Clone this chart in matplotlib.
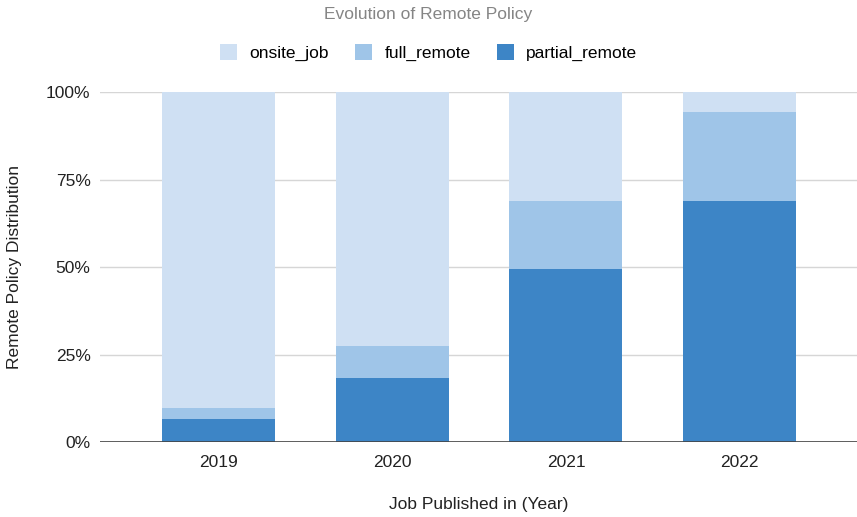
import matplotlib
matplotlib.use('Agg')
import matplotlib.pyplot as plt
import numpy as np

plt.rcParams['font.family'] = ['Liberation Sans', 'DejaVu Sans']

years = ['2019', '2020', '2021', '2022']
partial_remote = [6.6, 18.3, 49.4, 68.9]
full_remote = [3.1, 9.1, 19.5, 25.4]
onsite_job = [90.3, 72.6, 31.1, 5.7]

c_onsite = '#cfe0f3'
c_full = '#9fc5e8'
c_partial = '#3d85c6'
fs = 12.5

fig = plt.figure(figsize=(8.57, 5.17), dpi=100)
ax = fig.add_axes([0.117, 0.145, 0.883, 0.677])

x = np.arange(len(years))
w = 0.65
base_full = np.array(partial_remote)
base_onsite = base_full + np.array(full_remote)

ax.bar(x, partial_remote, w, color=c_partial, label='partial_remote', zorder=3)
ax.bar(x, full_remote, w, bottom=base_full, color=c_full, label='full_remote', zorder=3)
ax.bar(x, onsite_job, w, bottom=base_onsite, color=c_onsite, label='onsite_job', zorder=3)

ax.set_xlim(-0.68, 3.675)
ax.set_ylim(0, 100)
ax.set_yticks([0, 25, 50, 75, 100])
ax.set_yticklabels(['0%', '25%', '50%', '75%', '100%'])
ax.set_xticks(x)
ax.set_xticklabels(years)

ax.grid(axis='y', color='#d6d6d6', linewidth=1, zorder=0)
ax.axhline(0, color='#444444', linewidth=1.2, zorder=4)
for s in ax.spines.values():
    s.set_visible(False)
ax.tick_params(axis='y', length=0, pad=7, labelsize=fs, labelcolor='#222222')
ax.tick_params(axis='x', length=0, pad=9, labelsize=fs, labelcolor='#222222')

ax.set_xlabel('Job Published in (Year)', fontsize=fs, labelpad=20, color='#222222')
ax.set_ylabel('Remote Policy Distribution', fontsize=fs, labelpad=17, color='#222222')

fig.text(0.5, 0.972, 'Evolution of Remote Policy', ha='center', va='center',
         fontsize=fs, color='#858585')

handles, labels = ax.get_legend_handles_labels()
order = [2, 1, 0]
fig.legend([handles[i] for i in order], [labels[i] for i in order],
           loc='center', bbox_to_anchor=(0.5, 0.898), ncol=3, frameon=False,
           fontsize=fs, handlelength=1.0, handleheight=1.0, columnspacing=1.5,
           handletextpad=0.7)

fig.savefig('out.png', dpi=100)
